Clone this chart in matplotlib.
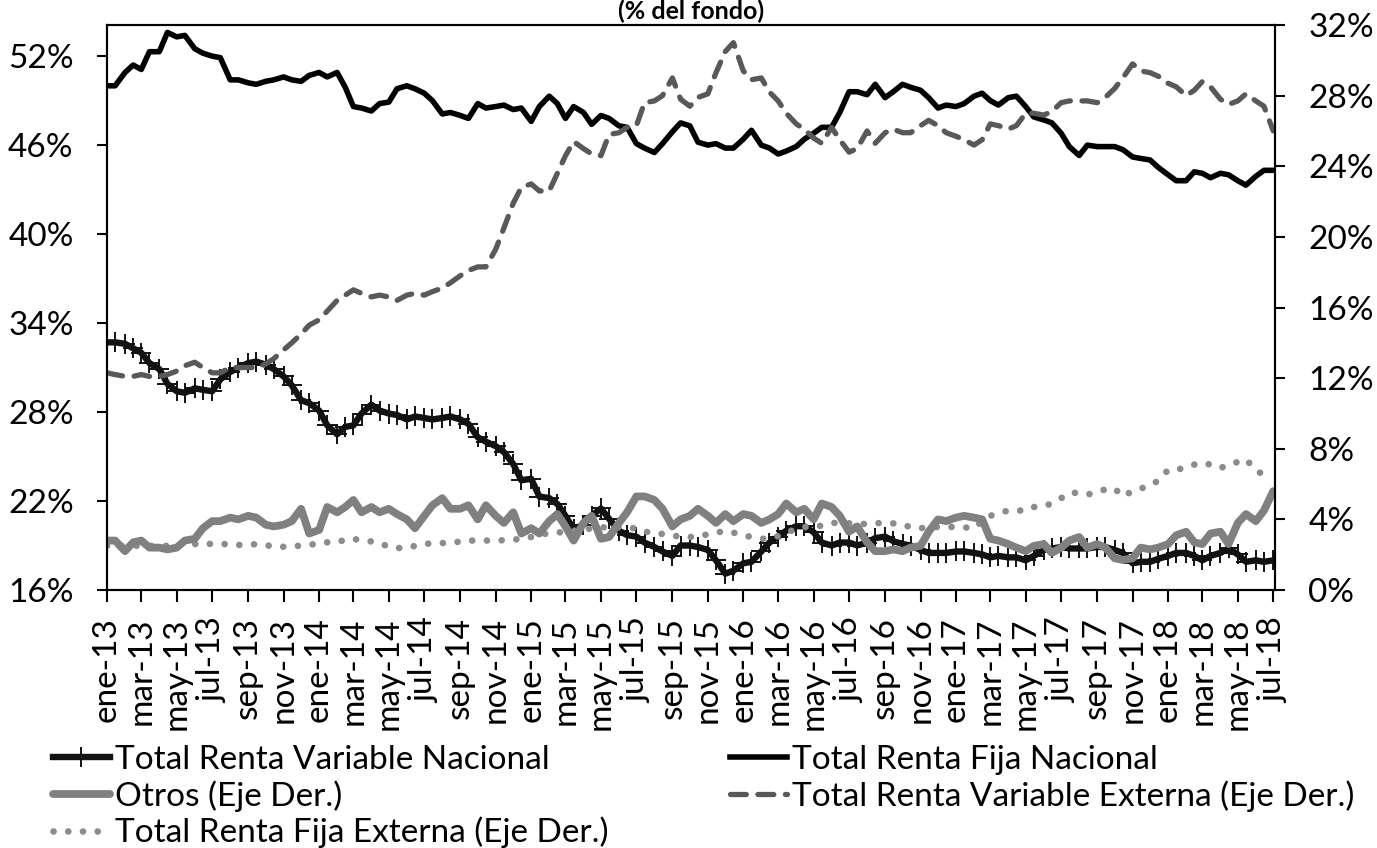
import pandas as pd
import matplotlib
matplotlib.use('Agg')
import matplotlib.pyplot as plt
from matplotlib.ticker import FuncFormatter

plt.rcParams['font.family'] = ['Lato', 'DejaVu Sans']
plt.rcParams['font.size'] = 24

# Serie quincenal, ene-2013 a jul-2018 (% del fondo)
fechas = pd.date_range('2013-01-01', '2018-07-01', freq='SMS')

# Total Renta Variable Nacional (eje izq.)
rvn = [32.7, 32.7, 32.6, 32.3, 32.0, 31.3, 30.9, 29.9, 29.4, 29.3,
       29.6, 29.5, 29.4, 30.2, 30.7, 31.0, 31.3, 31.4, 31.2, 30.9,
       30.4, 29.8, 28.8, 28.6, 28.1, 27.1, 26.5, 27.0, 27.1, 27.9,
       28.5, 28.1, 27.9, 27.8, 27.5, 27.7, 27.6, 27.5, 27.6, 27.7,
       27.5, 27.2, 26.3, 26.0, 25.7, 25.3, 24.5, 23.4, 23.5, 22.3,
       22.2, 21.8, 21.0, 20.1, 20.4, 21.0, 21.5, 20.8, 20.0, 19.7,
       19.6, 19.2, 18.9, 18.6, 18.3, 19.0, 19.0, 18.9, 18.7, 18.0,
       17.1, 17.3, 17.8, 17.9, 18.6, 19.2, 19.6, 20.0, 20.3, 20.3,
       19.9, 19.2, 19.0, 19.2, 19.2, 19.0, 19.2, 19.5, 19.6, 19.3,
       19.1, 19.0, 18.7, 18.5, 18.5, 18.5, 18.6, 18.6, 18.5, 18.4,
       18.2, 18.3, 18.2, 18.2, 18.0, 18.3, 18.7, 18.8, 18.9, 18.8,
       18.8, 18.8, 18.9, 18.9, 18.7, 18.5, 17.8, 17.9, 17.9, 18.1,
       18.3, 18.5, 18.5, 18.3, 18.0, 18.3, 18.5, 18.8, 18.4, 17.9,
       18.0, 17.9, 18.0]

# Total Renta Fija Nacional (eje izq.)
rfn = [50.0, 50.0, 50.9, 51.4, 51.1, 52.3, 52.3, 53.6, 53.3, 53.4,
       52.5, 52.2, 52.0, 51.9, 50.4, 50.4, 50.2, 50.1, 50.3, 50.4,
       50.6, 50.4, 50.3, 50.7, 50.9, 50.6, 50.9, 49.9, 48.6, 48.5,
       48.3, 48.8, 48.9, 49.8, 50.0, 49.8, 49.5, 49.0, 48.1, 48.2,
       48.0, 47.8, 48.8, 48.5, 48.6, 48.7, 48.4, 48.5, 47.6, 48.6,
       49.3, 48.8, 47.8, 48.6, 48.2, 47.4, 48.0, 47.8, 47.3, 47.2,
       46.1, 45.8, 45.5, 46.1, 46.9, 47.5, 47.3, 46.2, 46.0, 46.1,
       45.8, 45.8, 46.4, 47.0, 46.0, 45.8, 45.4, 45.6, 45.9, 46.4,
       46.8, 47.2, 47.2, 48.2, 49.6, 49.6, 49.4, 50.1, 49.2, 49.6,
       50.1, 49.9, 49.7, 49.2, 48.5, 48.7, 48.6, 48.8, 49.3, 49.5,
       49.0, 48.7, 49.2, 49.3, 48.6, 47.9, 47.7, 47.5, 46.8, 45.9,
       45.3, 46.0, 45.9, 45.9, 45.9, 45.7, 45.2, 45.1, 45.0, 44.5,
       44.0, 43.6, 43.6, 44.2, 44.1, 43.8, 44.1, 44.0, 43.6, 43.3,
       43.9, 44.3, 44.3]

# Otros (eje der.)
otros = [2.8, 2.8, 2.2, 2.7, 2.8, 2.4, 2.4, 2.3, 2.4, 2.8,
         2.9, 3.5, 3.9, 3.9, 4.1, 4.0, 4.2, 4.1, 3.7, 3.6,
         3.7, 3.9, 4.6, 3.2, 3.4, 4.7, 4.4, 4.7, 5.1, 4.4,
         4.7, 4.4, 4.6, 4.3, 4.0, 3.5, 4.2, 4.8, 5.2, 4.6,
         4.6, 4.8, 4.0, 4.8, 4.2, 3.8, 4.4, 3.2, 3.5, 3.2,
         3.9, 4.3, 3.6, 2.8, 3.8, 4.2, 2.9, 3.0, 3.8, 4.4,
         5.3, 5.3, 5.1, 4.6, 3.6, 4.0, 4.2, 4.6, 4.2, 3.8,
         4.3, 3.9, 4.3, 4.2, 3.8, 4.0, 4.3, 4.9, 4.4, 4.6,
         4.0, 4.9, 4.7, 4.2, 3.3, 3.6, 2.7, 2.2, 2.2, 2.3,
         2.2, 2.4, 2.5, 3.3, 4.0, 3.9, 4.1, 4.2, 4.1, 4.0,
         2.9, 2.8, 2.6, 2.4, 2.2, 2.5, 2.6, 2.1, 2.4, 2.8,
         3.0, 2.4, 2.6, 2.4, 1.8, 1.7, 1.8, 2.4, 2.3, 2.4,
         2.6, 3.1, 3.3, 2.7, 2.6, 3.2, 3.3, 2.6, 3.8, 4.3,
         3.9, 4.5, 5.6]

# Total Renta Variable Externa (eje der.)
rve = [12.3, 12.2, 12.1, 12.1, 12.2, 12.1, 12.1, 12.2, 12.4, 12.7,
       12.9, 12.6, 12.3, 12.3, 12.6, 12.6, 12.6, 12.6, 12.8, 13.1,
       13.6, 14.0, 14.5, 15.0, 15.3, 15.8, 16.4, 16.7, 17.0, 16.8,
       16.6, 16.7, 16.6, 16.4, 16.7, 16.8, 16.7, 16.9, 17.1, 17.4,
       17.8, 18.1, 18.3, 18.3, 19.3, 20.5, 21.9, 22.8, 23.0, 22.6,
       22.6, 23.6, 24.6, 25.4, 25.0, 24.7, 24.6, 25.8, 25.9, 26.2,
       26.3, 27.6, 27.7, 28.0, 29.0, 27.8, 27.4, 27.9, 28.1, 29.3,
       30.5, 31.0, 29.4, 28.9, 29.0, 28.2, 27.7, 27.0, 26.4, 26.1,
       25.6, 25.3, 26.2, 25.5, 24.8, 25.0, 26.0, 25.3, 25.9, 26.1,
       25.9, 25.9, 26.3, 26.6, 26.3, 25.9, 25.7, 25.5, 25.2, 25.5,
       26.4, 26.3, 26.1, 26.3, 27.0, 27.0, 26.9, 27.1, 27.6, 27.7,
       27.7, 27.7, 27.6, 27.9, 28.4, 29.0, 29.8, 29.4, 29.3, 29.1,
       28.7, 28.5, 28.0, 28.3, 28.8, 28.5, 27.8, 27.5, 27.7, 28.1,
       27.7, 27.4, 26.0]

# Total Renta Fija Externa (eje der.)
rfe = [2.5, 2.5, 2.5, 2.5, 2.5, 2.5, 2.5, 2.5, 2.6, 2.6,
       2.6, 2.65, 2.6, 2.6, 2.6, 2.55, 2.55, 2.6, 2.55, 2.45,
       2.45, 2.5, 2.5, 2.55, 2.65, 2.7, 2.7, 2.85, 2.9, 2.8,
       2.75, 2.65, 2.45, 2.38, 2.38, 2.5, 2.6, 2.65, 2.66, 2.66,
       2.75, 2.8, 2.8, 2.8, 2.8, 2.82, 2.85, 2.9, 3.0, 3.15,
       3.2, 3.25, 3.3, 3.35, 3.4, 3.5, 3.55, 3.55, 3.55, 3.5,
       3.5, 3.3, 3.25, 3.17, 3.1, 3.0, 3.0, 3.05, 3.15, 3.25,
       3.34, 3.25, 3.1, 3.0, 2.9, 2.92, 3.05, 3.25, 3.45, 3.57,
       3.57, 3.65, 3.8, 3.8, 3.78, 3.75, 3.74, 3.78, 3.8, 3.77,
       3.72, 3.55, 3.5, 3.55, 3.57, 3.57, 3.57, 3.55, 3.5, 3.9,
       4.2, 4.35, 4.5, 4.5, 4.5, 4.7, 4.75, 4.9, 5.2, 5.5,
       5.5, 5.4, 5.55, 5.7, 5.75, 5.3, 5.6, 5.75, 5.9, 6.2,
       6.8, 6.8, 6.95, 7.1, 7.2, 7.1, 6.9, 7.1, 7.25, 7.4,
       6.8, 6.5, 6.4]

meses = ['ene', 'feb', 'mar', 'abr', 'may', 'jun',
         'jul', 'ago', 'sep', 'oct', 'nov', 'dic']
ticks_x = pd.date_range('2013-01-01', '2018-07-01', freq='2MS')
ticks_izq = [16, 22, 28, 34, 40, 46, 52]
ticks_der = [0, 4, 8, 12, 16, 20, 24, 28, 32]

fig = plt.figure(figsize=(13.77, 8.48), dpi=100)
ax = fig.add_axes([107 / 1377, 1 - 590 / 848, 1168 / 1377, 565 / 848])
ax2 = ax.twinx()

l_rvn, = ax.plot(fechas, rvn, color='#121212', lw=4.6, marker='+', ms=14,
                 mew=1.4, solid_joinstyle='round',
                 label='Total Renta Variable Nacional')
l_rfn, = ax.plot(fechas, rfn, color='black', lw=4.0,
                 solid_joinstyle='round', label='Total Renta Fija Nacional')

l_rfe, = ax2.plot(fechas, rfe, color='#8c8c8c', lw=4.8,
                  ls=(0, (0.01, 2.2)), dash_capstyle='round',
                  label='Total Renta Fija Externa (Eje Der.)')
l_otr, = ax2.plot(fechas, otros, color='#808080', lw=5.6,
                  solid_capstyle='round', solid_joinstyle='round',
                  label='Otros (Eje Der.)')
l_rve, = ax2.plot(fechas, rve, color='#595959', lw=3.8,
                  ls=(0, (3.0, 2.2)), dash_capstyle='round',
                  label='Total Renta Variable Externa (Eje Der.)')

ax.set_xlim(fechas[0], pd.Timestamp('2018-07-04'))
ax.set_xticks(ticks_x)
ax.set_xticklabels([f"{meses[d.month - 1]}-{d.year % 100:02d}" for d in ticks_x],
                   rotation=90)

ax.set_ylim(16, 54.1)
ax.set_yticks(ticks_izq)
ax2.set_ylim(0, 32)
ax2.set_yticks(ticks_der)
pct = FuncFormatter(lambda v, p: f"{v:.0f}%")
ax.yaxis.set_major_formatter(pct)
ax2.yaxis.set_major_formatter(pct)

ax.tick_params(axis='x', direction='out', length=8.5, width=1.5, pad=11)
ax.tick_params(axis='y', direction='out', length=7, width=1.5, pad=17)
ax2.tick_params(axis='y', direction='out', length=7, width=1.5, pad=17)
for a in (ax, ax2):
    for s in a.spines.values():
        s.set_linewidth(1.5)
        s.set_color('black')

fig.text(691 / 1377, 1.0, '(% del fondo)', ha='center',
         va='top', fontsize=18, fontweight='bold')

opts = dict(loc='upper left', frameon=False, borderpad=0, borderaxespad=0,
            handlelength=1.7, handletextpad=0.15, labelspacing=0.15,
            numpoints=1, fontsize=24)
fig.legend(handles=[l_rvn, l_otr, l_rfe],
           bbox_to_anchor=(53 / 1377, 1 - 745 / 848), **opts)
fig.legend(handles=[l_rfn, l_rve],
           bbox_to_anchor=(730 / 1377, 1 - 745 / 848), **opts)

fig.savefig('out.png', dpi=100)
